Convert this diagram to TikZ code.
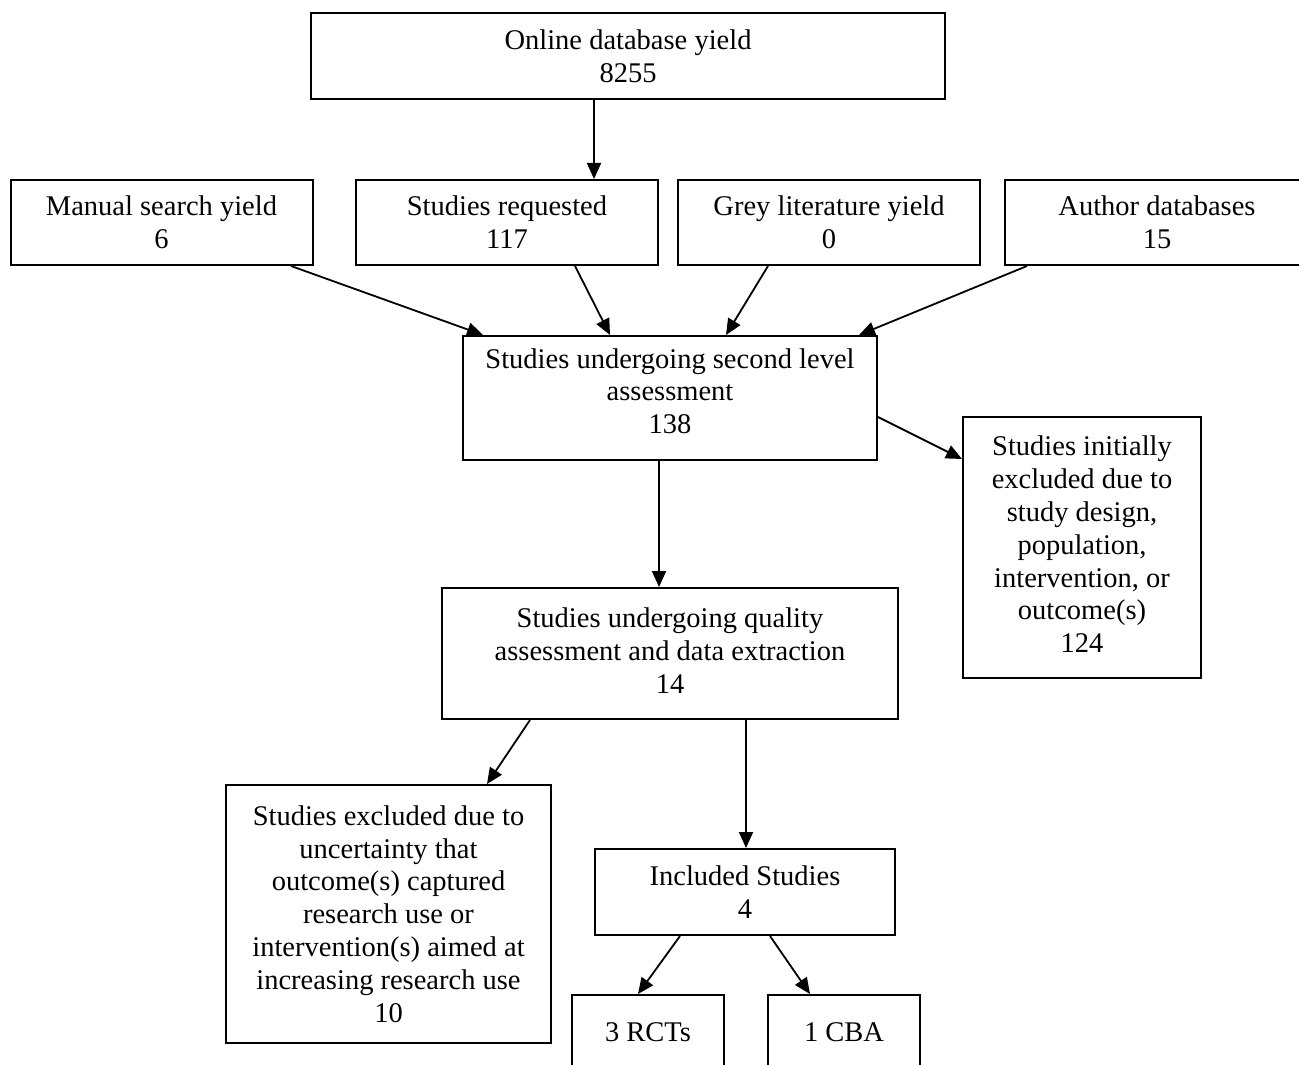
\documentclass[tikz,border=0pt]{standalone}
\usepackage{fontspec}
\setmainfont{Liberation Serif}
\usetikzlibrary{arrows.meta}

\begin{document}
\begin{tikzpicture}
  [x=0.5pt,y=-0.5pt,
   every node/.style={draw,rectangle,align=center,inner sep=0pt,line width=1pt,
     font=\fontsize{14.25pt}{16.4pt}\selectfont},
   yield/.style={minimum width=151pt,minimum height=42.5pt},
   flow/.style={line width=0.9pt,-{Triangle[length=8pt,width=7pt]}}]
  \useasboundingbox (0,0) rectangle (1299,1064);

  \node[minimum width=317pt,minimum height=43pt] (online) at (628,56) {Online database yield\\8255};
  \node[yield] (manual) at (161.5,222.5) {Manual search yield\\6};
  \node[yield] (requested) at (507,222.5) {Studies requested\\117};
  \node[yield] (grey) at (829,222.5) {Grey literature yield\\0};
  \node[yield,minimum width=152pt] (author) at (1157,222.5) {Author databases\\15};
  \node[minimum width=207pt,minimum height=62pt,text depth=7pt] (second) at (670,398) {Studies undergoing second level\\assessment\\138};
  \node[minimum width=119pt,minimum height=130.5pt,text depth=3pt] (initexcl) at (1082,547.5) {Studies initially\\excluded due to\\study design,\\population,\\intervention, or\\outcome(s)\\124};
  \node[minimum width=228pt,minimum height=65.5pt,text depth=3pt] (quality) at (670,653.5) {Studies undergoing quality\\assessment and data extraction\\14};
  \node[minimum width=162.5pt,minimum height=129pt] (uncert) at (388.5,914) {Studies excluded due to\\uncertainty that\\outcome(s) captured\\research use or\\intervention(s) aimed at\\increasing research use\\10};
  \node[minimum width=150pt,minimum height=43pt] (included) at (745,892) {Included Studies\\4};
  \node[minimum width=76pt,minimum height=37.5pt] (rcts) at (648,1032.5) {3 RCTs};
  \node[minimum width=76pt,minimum height=37.5pt] (cba) at (844,1032.5) {1 CBA};

  \foreach \from/\fx/\to/\tx in {online/-17/requested/43.5,manual/64.75/second/-93.5,
      requested/34/second/-30,grey/-30.5/second/28,author/-65/second/94.5,
      second/-5.5/quality/-5.5,quality/-70/uncert/49.25,quality/38/included/0.5,
      included/-32.5/rcts/-5,included/12.5/cba/-17}
    \draw[flow] ([xshift=\fx pt]\from.south) -- ([xshift=\tx pt]\to.north);
  \draw[flow] ([yshift=-9.5pt]second.east) -- ([yshift=44.25pt]initexcl.west);

\end{tikzpicture}
\end{document}
